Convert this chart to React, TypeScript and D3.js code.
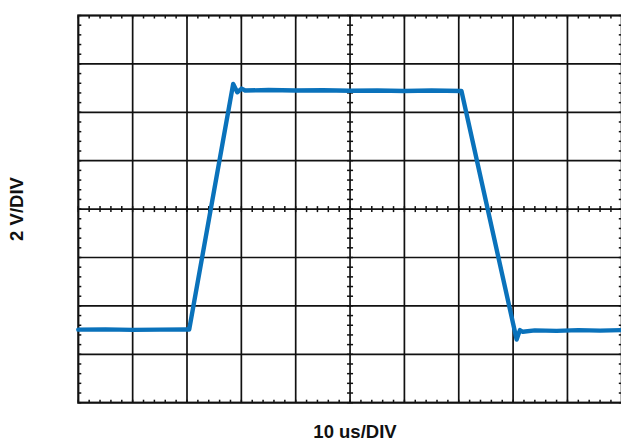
import React from "react";
import * as d3 from "d3";

// Oscilloscope capture: time in µs (10 µs/div), amplitude in V (2 V/div)
const timeUs = [0, 5, 10, 15, 20, 20.4, 28.5, 29.25, 30.05, 30.7, 35, 40, 45, 50, 55, 60, 65, 70.5, 80.65, 81.25, 81.8, 84, 88, 92, 96, 100];
const volts = [-4.98, -4.97, -4.99, -4.98, -4.97, -4.98, 5.17, 4.83, 4.98, 4.9, 4.92, 4.9, 4.91, 4.89, 4.9, 4.88, 4.9, 4.88, -5.39, -5.0, -5.07, -5.01, -5.03, -5.0, -5.02, -5.0];

const xDomain = [0, 100];
const yDomain = [-8, 8];
const xDivs = 10;
const yDivs = 8;
const minorPerDiv = 5;
const xLabel = "10 us/DIV";
const yLabel = "2 V/DIV";

const W = 621;
const H = 442;
const left = 78.3;
const right = 621.8;
const top = 15.5;
const bottom = 402.7;

export default function App() {
  const x = d3.scaleLinear().domain(xDomain).range([left, right]);
  const y = d3.scaleLinear().domain(yDomain).range([bottom, top]);

  const xMajor = d3.range(xDivs + 1).map((i) => xDomain[0] + (i * (xDomain[1] - xDomain[0])) / xDivs);
  const yMajor = d3.range(yDivs + 1).map((i) => yDomain[0] + (i * (yDomain[1] - yDomain[0])) / yDivs);
  const xMinor = d3.range(xDivs * minorPerDiv + 1).map((i) => xDomain[0] + (i * (xDomain[1] - xDomain[0])) / (xDivs * minorPerDiv));
  const yMinor = d3.range(yDivs * minorPerDiv + 1).map((i) => yDomain[0] + (i * (yDomain[1] - yDomain[0])) / (yDivs * minorPerDiv));

  const xc = x((xDomain[0] + xDomain[1]) / 2);
  const yc = y((yDomain[0] + yDomain[1]) / 2);

  const line = d3
    .line<number>()
    .x((_, i) => x(timeUs[i]))
    .y((v) => y(v));

  const tl = 3;
  const stroke = "#111";

  return (
    <svg width={W} height={H} style={{ position: "fixed", left: 0, top: 0, background: "#fff" }}>
      <g>
        {xMajor.slice(1, -1).map((t, i) => (
          <line key={"gx" + i} x1={x(t)} x2={x(t)} y1={top} y2={bottom} stroke={stroke} strokeWidth={1.7} />
        ))}
        {yMajor.slice(1, -1).map((v, i) => (
          <line key={"gy" + i} x1={left} x2={right} y1={y(v)} y2={y(v)} stroke={stroke} strokeWidth={1.7} />
        ))}
        {xMinor.map((t, i) => (
          <g key={"mx" + i}>
            <line x1={x(t)} x2={x(t)} y1={top} y2={top + tl} stroke={stroke} strokeWidth={1.5} />
            <line x1={x(t)} x2={x(t)} y1={bottom} y2={bottom - tl} stroke={stroke} strokeWidth={1.5} />
            <line x1={x(t)} x2={x(t)} y1={yc - tl} y2={yc + tl} stroke={stroke} strokeWidth={1.5} />
          </g>
        ))}
        {yMinor.map((v, i) => (
          <g key={"my" + i}>
            <line x1={left} x2={left + tl} y1={y(v)} y2={y(v)} stroke={stroke} strokeWidth={1.5} />
            <line x1={right} x2={right - tl} y1={y(v)} y2={y(v)} stroke={stroke} strokeWidth={1.5} />
            <line x1={xc - tl} x2={xc + tl} y1={y(v)} y2={y(v)} stroke={stroke} strokeWidth={1.5} />
          </g>
        ))}
        <rect x={left} y={top} width={right - left} height={bottom - top} fill="none" stroke={stroke} strokeWidth={2.2} />
      </g>
      <path d={line(volts) || ""} fill="none" stroke="#0a72bb" strokeWidth={4.4} strokeLinejoin="round" strokeLinecap="round" />
      <text
        x={355}
        y={438}
        textAnchor="middle"
        fontFamily="Liberation Sans, Arial, sans-serif"
        fontWeight="bold"
        fontSize={18.5}
        fill="#111"
      >
        {xLabel}
      </text>
      <text
        transform={`translate(22.5, 209) rotate(-90)`}
        textAnchor="middle"
        fontFamily="Liberation Sans, Arial, sans-serif"
        fontWeight="bold"
        fontSize={18.5}
        fill="#111"
      >
        {yLabel}
      </text>
    </svg>
  );
}
